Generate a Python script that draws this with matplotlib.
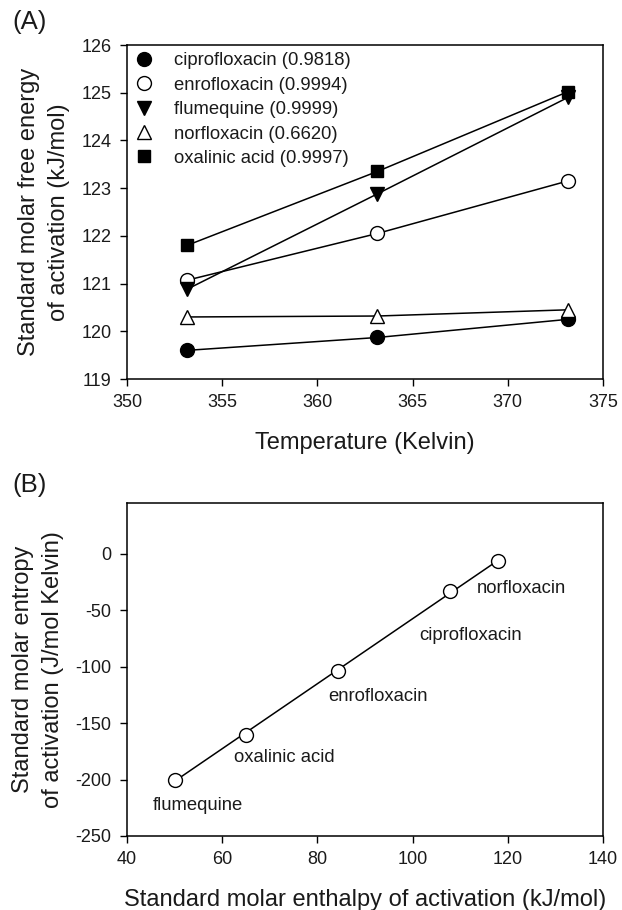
import matplotlib
matplotlib.use("Agg")
import matplotlib.pyplot as plt
import numpy as np

plt.rcParams['font.family'] = ['Liberation Sans', 'DejaVu Sans']
plt.rcParams['axes.unicode_minus'] = False

# Panel A data
temperature = [353.15, 363.15, 373.15]
cipro = [119.60, 119.87, 120.25]
enro = [121.07, 122.05, 123.15]
flume = [120.88, 122.88, 124.90]
norflox = [120.30, 120.32, 120.45]
oxal = [121.80, 123.35, 125.02]
series_labels = ['ciprofloxacin (0.9818)', 'enrofloxacin (0.9994)',
                 'flumequine (0.9999)', 'norfloxacin (0.6620)',
                 'oxalinic acid (0.9997)']

# Panel B data
compounds = ['flumequine', 'oxalinic acid', 'enrofloxacin', 'ciprofloxacin', 'norfloxacin']
enthalpy = [50.0, 64.9, 84.3, 107.9, 118.0]
entropy = [-200.0, -160.3, -103.5, -32.9, -6.5]

fig = plt.figure(figsize=(6.22, 9.10), dpi=100)
W, H = 622, 910

def add_ax(l, t, r, b):
    return fig.add_axes([l / W, 1 - b / H, (r - l) / W, (b - t) / H])

axA = add_ax(127, 45, 603, 379)
axB = add_ax(127, 503, 603, 836)

tick_fs = 13
label_fs = 17
text_fs = 13.3
tcol = '#1a1a1a'

styles = [
    (cipro, dict(marker='o', mfc='black', mec='black', ms=10)),
    (enro, dict(marker='o', mfc='white', mec='black', ms=10)),
    (flume, dict(marker='v', mfc='black', mec='black', ms=10)),
    (norflox, dict(marker='^', mfc='white', mec='black', ms=10)),
    (oxal, dict(marker='s', mfc='black', mec='black', ms=9)),
]
handles = []
for (vals, st), lab in zip(styles, series_labels):
    axA.plot(temperature, vals, color='black', lw=1.1, **st)
    h, = axA.plot([], [], ls='none', **st, label=lab)
    handles.append(h)

axA.set_xlim(350, 375)
axA.set_ylim(119, 126)
axA.set_xticks(np.arange(350, 376, 5))
axA.set_yticks(np.arange(119, 127, 1))
axA.set_xlabel('Temperature (Kelvin)', fontsize=label_fs, labelpad=15, color=tcol)
axA.set_ylabel('Standard molar free energy\nof activation (kJ/mol)', fontsize=label_fs,
               labelpad=8, linespacing=1.5, color=tcol)
leg = axA.legend(handles=handles, loc='upper left', frameon=False, fontsize=text_fs,
                 handletextpad=1.15, labelspacing=0.40, borderaxespad=0.0,
                 handlelength=1.0, markerscale=1.0)
for t in leg.get_texts():
    t.set_color(tcol)

# Panel B
axB.plot(enthalpy, entropy, ls='none', marker='o', mfc='white', mec='black', ms=10, zorder=3)
coef = np.polyfit(enthalpy, entropy, 1)
xfit = np.array([min(enthalpy), max(enthalpy)])
axB.plot(xfit, np.polyval(coef, xfit), color='black', lw=1.1, zorder=2)
offsets = {'flumequine': (-22, -26), 'oxalinic acid': (-12, -23),
           'enrofloxacin': (-10, -26), 'ciprofloxacin': (-31, -45),
           'norfloxacin': (-21, -27)}
for name, x, y in zip(compounds, enthalpy, entropy):
    dx, dy = offsets[name]
    axB.annotate(name, (x, y), xytext=(dx * 0.72, dy * 0.72), textcoords='offset points',
                 ha='left', va='center', fontsize=text_fs, color=tcol)

axB.set_xlim(40, 140)
axB.set_ylim(-250, 45)
axB.set_xticks(np.arange(40, 141, 20))
axB.set_yticks(np.arange(-250, 1, 50))
axB.set_xlabel('Standard molar enthalpy of activation (kJ/mol)', fontsize=label_fs,
               labelpad=15, color=tcol)
axB.set_ylabel('Standard molar entropy\nof activation (J/mol Kelvin)', fontsize=label_fs,
               labelpad=8, linespacing=1.5, color=tcol)

for ax in (axA, axB):
    ax.tick_params(direction='out', length=5, width=1, labelsize=tick_fs, pad=6,
                   labelcolor=tcol)
    for s in ax.spines.values():
        s.set_linewidth(1.1)

fig.text(12 / W, 1 - 22 / H, '(A)', fontsize=18.5, va='center', ha='left', color=tcol)
fig.text(12 / W, 1 - 485 / H, '(B)', fontsize=18.5, va='center', ha='left', color=tcol)

fig.savefig('out.png', dpi=100)
